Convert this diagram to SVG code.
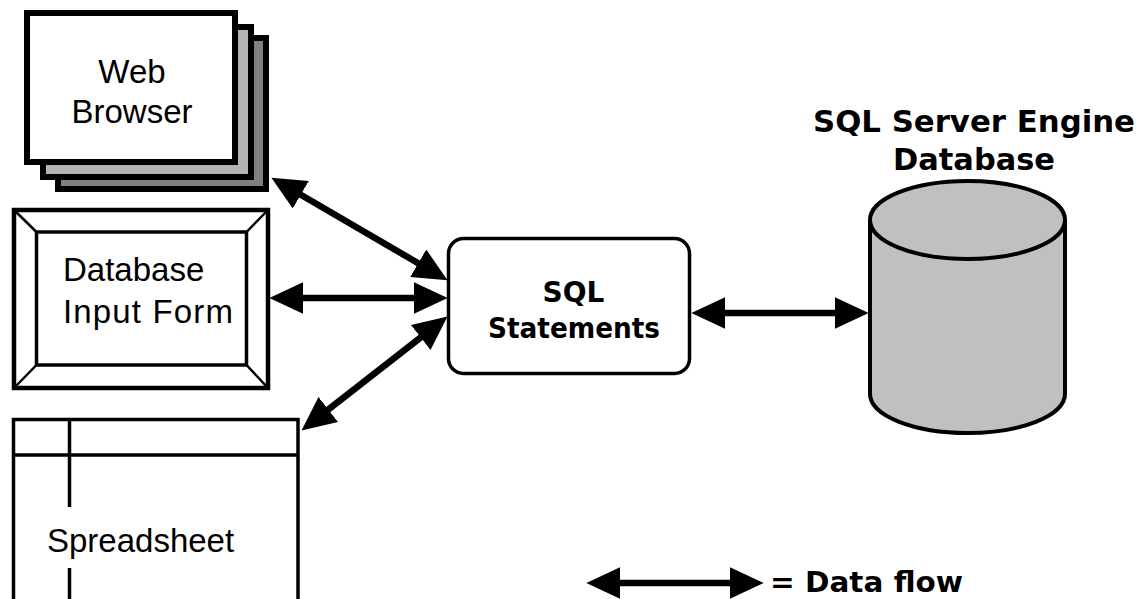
<svg xmlns="http://www.w3.org/2000/svg" width="1141" height="599" viewBox="0 0 1141 599">
<style>
.lbl{font-family:"Liberation Sans",Arial,sans-serif;font-size:33px;fill:#000}
.bold{font-family:"DejaVu Sans",Verdana,sans-serif;font-weight:bold;fill:#000}
.flow{stroke:#000;stroke-width:6.5;fill:none;marker-start:url(#ah);marker-end:url(#ah)}
</style>
<defs>
<marker id="ah" markerUnits="userSpaceOnUse" markerWidth="34" markerHeight="32" viewBox="0 0 32 30" refX="22" refY="15" orient="auto-start-reverse">
<path d="M0,0 L32,15 L0,30 Z" fill="#000"/>
</marker>
</defs>
<rect width="1141" height="599" fill="#fff"/>

<g id="web-browser">
<rect x="58" y="38" width="208" height="151" fill="#808080" stroke="#000" stroke-width="6"/>
<rect x="43" y="27" width="208" height="150" fill="#b4b4b4" stroke="#000" stroke-width="6"/>
<rect x="27" y="13" width="208" height="149" fill="#fff" stroke="#000" stroke-width="6"/>
<text class="lbl" x="132" y="83" text-anchor="middle">Web</text>
<text class="lbl" x="132" y="123" text-anchor="middle">Browser</text>
</g>

<g id="input-form">
<rect x="14" y="210" width="254" height="178" fill="#fff" stroke="#000" stroke-width="4.5"/>
<rect x="36.5" y="232" width="210" height="133" fill="#fff" stroke="#000" stroke-width="3.5"/>
<path d="M14,210 L36.5,232 M268,210 L246.5,232 M14,388 L36.5,365 M268,388 L246.5,365" stroke="#000" stroke-width="2.5"/>
<text class="lbl" x="63" y="281">Database</text>
<text class="lbl" x="63" y="323" textLength="170" lengthAdjust="spacing">Input Form</text>
</g>

<g id="spreadsheet">
<path d="M13.5,602 L13.5,419.5 L298,419.5 L298,602" fill="#fff" stroke="#000" stroke-width="3.5"/>
<path d="M13.5,455 L298,455 M69.5,419.5 L69.5,507 M69.5,568 L69.5,602" stroke="#000" stroke-width="3.5" fill="none"/>
<text class="lbl" x="47" y="552">Spreadsheet</text>
</g>

<g id="sql-statements">
<rect x="448.5" y="238.5" width="241" height="135" rx="15" ry="15" fill="#fff" stroke="#000" stroke-width="3.5"/>
<text class="bold" x="573.5" y="302" font-size="28" text-anchor="middle">SQL</text>
<text class="bold" x="574" y="338" font-size="28" text-anchor="middle" textLength="172" lengthAdjust="spacingAndGlyphs">Statements</text>
</g>

<g id="database">
<text class="bold" x="974" y="132" font-size="30.5" text-anchor="middle" textLength="322" lengthAdjust="spacingAndGlyphs">SQL Server Engine</text>
<text class="bold" x="974" y="170" font-size="30.5" text-anchor="middle" textLength="162" lengthAdjust="spacingAndGlyphs">Database</text>
<path d="M870,220 L870,394 A97.5,39 0 0 0 1065,394 L1065,220" fill="#c0c0c0" stroke="#000" stroke-width="4"/>
<ellipse cx="967.5" cy="220" rx="97.5" ry="39" fill="#c0c0c0" stroke="#000" stroke-width="4"/>
</g>

<g id="connectors">
<line class="flow" x1="280.6" y1="183" x2="438.4" y2="275"/>
<line class="flow" x1="280" y1="298" x2="437" y2="298"/>
<line class="flow" x1="439.1" y1="323.1" x2="309.9" y2="423.9"/>
<line class="flow" x1="702" y1="313" x2="858" y2="313"/>
</g>

<g id="legend">
<line class="flow" x1="597" y1="583" x2="753" y2="583"/>
<text class="bold" x="770" y="592" font-size="28" textLength="193" lengthAdjust="spacingAndGlyphs">= Data flow</text>
</g>
</svg>
